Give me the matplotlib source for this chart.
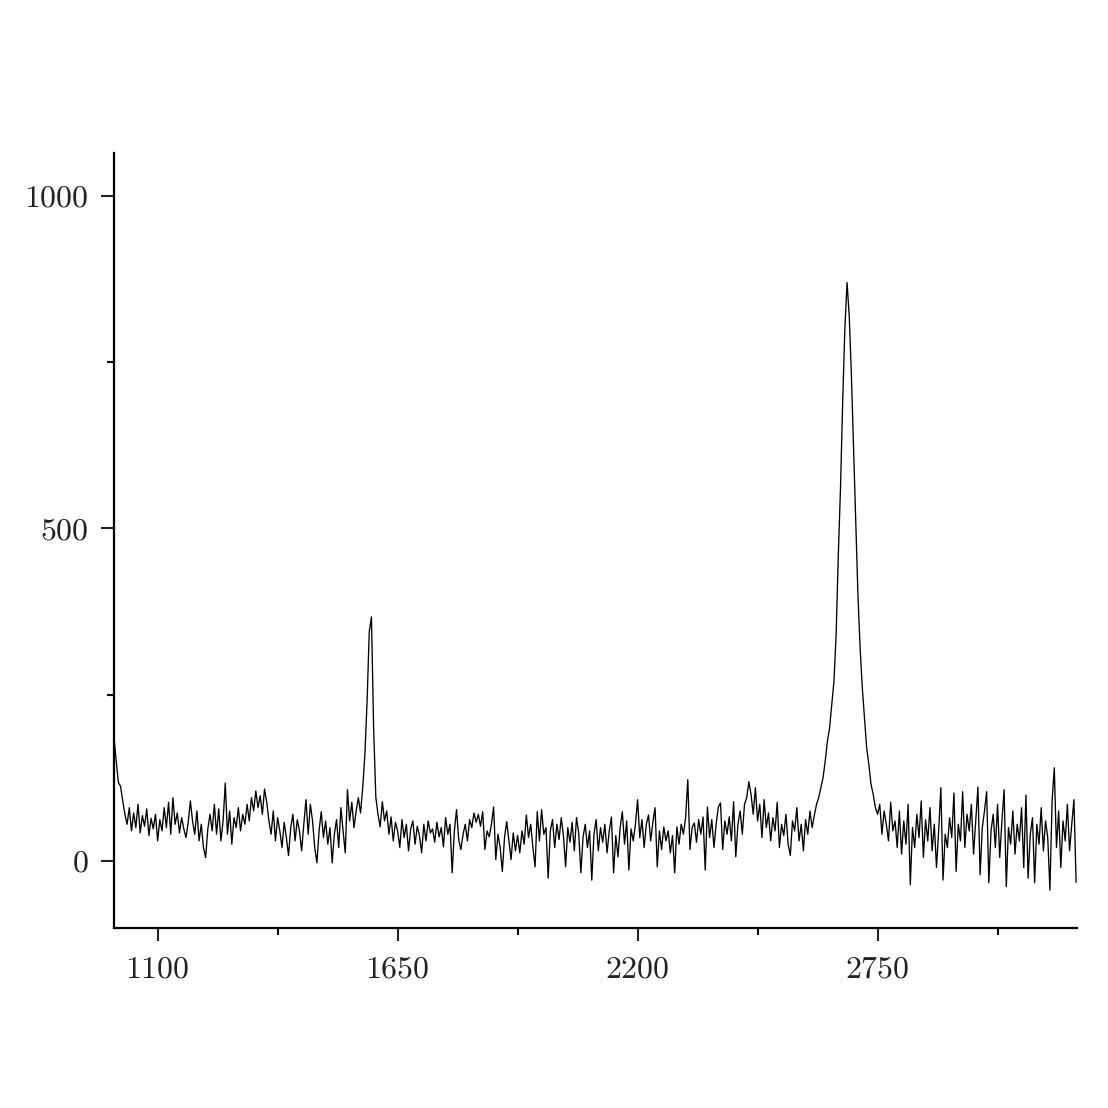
import numpy as np
import matplotlib.pyplot as plt

# Raman spectrum, sampled every 5 cm-1 starting at 1000 cm-1
WN_START = 1000
WN_STEP = 5

# intensities, one list per 100 cm-1 block
i_1000 = [185, 150, 118, 112, 90, 70, 55, 80, 45, 72, 50, 85, 42, 68, 52, 78, 38, 64, 48, 70]
i_1100 = [30, 62, 45, 80, 50, 88, 40, 95, 55, 72, 42, 65, 48, 35, 58, 90, 60, 40, 75, 30]
i_1200 = [55, 20, 5, 48, 70, 45, 85, 40, 78, 30, 60, 117, 40, 75, 25, 65, 50, 80, 45, 70]
i_1300 = [55, 85, 60, 95, 75, 105, 80, 98, 70, 108, 88, 60, 40, 75, 30, 65, 45, 20, 58, 35]
i_1400 = [8, 50, 70, 30, 62, 45, 15, 55, 92, 40, 85, 60, 20, -3, 45, 74, 35, 60, 25, 50]
i_1500 = [-3, 40, 62, 20, 80, 45, 12, 107, 60, 88, 50, 75, 95, 72, 110, 160, 240, 345, 367, 200]
i_1600 = [96, 70, 51, 89, 60, 75, 40, 66, 30, 58, 45, 20, 62, 35, 55, 15, 48, 60, 25, 52]
i_1700 = [38, 12, 55, 30, 60, 42, 48, 28, 58, 36, 50, 21, 65, 40, 55, -18, 45, 77, 32, 17]
i_1800 = [40, 55, 30, 62, 50, 72, 58, 70, 52, 74, 17, 45, 36, 55, 81, 2, 40, 20, -16, 35]
i_1900 = [59, 30, 2, 42, 15, 38, 12, 45, 25, 69, 35, 55, 20, -9, 74, 30, 77, 40, 50, -26]
i_2000 = [45, 62, 20, 55, 32, 65, 38, -9, 50, 28, 58, 15, 65, 42, -18, 36, 55, 20, 45, -29]
i_2100 = [40, 62, 15, 50, 28, 55, 12, 45, 66, -18, 38, 6, 50, 74, 25, 60, -14, 48, 30, 55]
i_2200 = [92, 35, 62, 20, 55, 69, 30, 58, 80, -9, 45, 17, 51, 30, 45, 12, 38, -18, 51, 25]
i_2300 = [55, 40, 65, 122, 17, 50, 57, 28, 62, 40, 66, -14, 81, 35, 62, 20, 55, 81, 87, 17]
i_2400 = [60, 40, 66, 30, 89, 6, 55, 75, 40, 85, 95, 119, 100, 70, 110, 60, 85, 35, 92, 50]
i_2500 = [72, 30, 65, 45, 88, 20, 55, 38, 70, 25, 8, 60, 45, 80, 30, 55, 15, 62, 40, 75]
i_2600 = [50, 68, 85, 95, 110, 125, 150, 180, 200, 235, 270, 340, 460, 560, 690, 800, 870, 820, 730, 620]
i_2700 = [510, 400, 320, 260, 215, 170, 145, 115, 100, 80, 70, 85, 40, 75, 55, 30, 88, 45, 60, 20]
i_2800 = [75, 10, 60, 25, 85, -36, 50, 20, 70, 35, 90, 5, 62, 30, 80, 15, 55, -10, 45, 110]
i_2900 = [-29, 40, 20, 65, 35, 102, -16, 55, 30, 104, 20, 70, 45, 85, 10, 60, 111, -21, 50, 75]
i_3000 = [104, -33, 45, 70, 20, 85, 5, 60, 107, -39, 50, 25, 75, 10, 55, 30, 80, -10, 99, -26]
i_3100 = [40, 65, -33, 55, 25, 80, 15, 60, 35, -44, 90, 140, 20, 75, -10, 60, 30, 85, 15, 55, 92, -32]

blocks = [i_1000, i_1100, i_1200, i_1300, i_1400, i_1500, i_1600, i_1700,
          i_1800, i_1900, i_2000, i_2100, i_2200, i_2300, i_2400, i_2500,
          i_2600, i_2700, i_2800, i_2900, i_3000, i_3100]
intensity = np.concatenate([np.array(b, dtype=float) for b in blocks])
wavenumber = WN_START + WN_STEP * np.arange(len(intensity))

x_ticks = [1100, 1650, 2200, 2750]
x_minor = [1375, 1925, 2475, 3025]
y_ticks = [0, 500, 1000]
y_minor = [250, 750]

plt.rcParams['font.family'] = 'cmr10'
plt.rcParams['axes.formatter.use_mathtext'] = True

fig = plt.figure(figsize=(11.08, 11.08), dpi=100)
ax = fig.add_axes([0.1029, 0.1625, 0.8691, 0.6995])

ax.plot(wavenumber, intensity, color='black', lw=0.95)

ax.set_xlim(1000, 3207)
ax.set_ylim(-101, 1065)

ax.set_xticks(x_ticks)
ax.set_yticks(y_ticks)
ax.xaxis.set_minor_locator(plt.FixedLocator(x_minor))
ax.yaxis.set_minor_locator(plt.FixedLocator(y_minor))

for s in ['top', 'right']:
    ax.spines[s].set_visible(False)
for s in ['left', 'bottom']:
    ax.spines[s].set_linewidth(1.6)

ax.tick_params(which='major', direction='out', length=9.5, width=1.5, labelsize=23, colors='#222222')
ax.tick_params(which='minor', direction='out', length=5, width=1.5)
ax.tick_params(axis='x', which='major', pad=11)
ax.tick_params(axis='y', which='major', pad=9)

fig.savefig('out.png', dpi=100)
